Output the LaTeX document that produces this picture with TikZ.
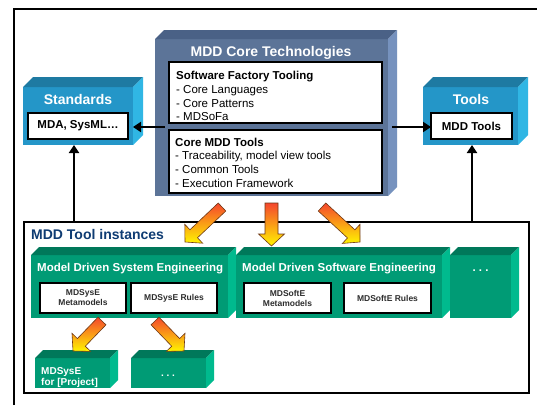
\documentclass[tikz,border=0pt]{standalone}
\usepackage{fontspec}
\setmainfont{Liberation Sans}
\usetikzlibrary{calc,arrows.meta}
\definecolor{slfront}{RGB}{92,116,152}
\definecolor{sltop}{RGB}{74,97,134}
\definecolor{slside}{RGB}{118,146,190}
\definecolor{cyfront}{RGB}{36,150,200}
\definecolor{cytop}{RGB}{30,122,162}
\definecolor{cyside}{RGB}{48,182,228}
\definecolor{grfront}{RGB}{0,155,117}
\definecolor{grtop}{RGB}{0,120,90}
\definecolor{grside}{RGB}{0,186,142}
\definecolor{navy}{RGB}{15,60,115}
\definecolor{arrred}{RGB}{245,70,45}
\definecolor{arryel}{RGB}{255,245,0}
\definecolor{arredge}{RGB}{110,55,20}
\definecolor{darktext}{RGB}{45,45,45}

\newcommand\cubebox[7]{% name, x1, y1, x2, y2, depth, colour prefix
  \node[inner sep=0pt, outer sep=0pt, fill=#7front, anchor=north west,
        minimum width={(#4-#2)*1pt}, minimum height={(#5-#3)*1pt}] (#1) at (#2,#3) {};
  \fill[#7top] (#1.north west) -- ++(#6,-#6) -- ($(#1.north east)+(#6,-#6)$) -- (#1.north east) -- cycle;
  \fill[#7side] (#1.north east) -- ++(#6,-#6) -- ($(#1.south east)+(#6,-#6)$) -- (#1.south east) -- cycle;
}
\newcommand\wbox[7]{% name, x1, y1, x2, y2, extra style, text
  \node[wboxstyle, #6, minimum width={(#4-#2)*1pt}, minimum height={(#5-#3)*1pt}] (#1) at (#2,#3) {#7};
}
\newcommand\blockarrow[3]{% tail, tip, shaft half width
  \coordinate (ba-n) at ($(#2)!12pt!(#1)$);
  \shade[blockarr] ($(#1)!#3!90:(#2)$) -- ($(ba-n)!#3!90:(#2)$) -- ($(ba-n)!13pt!90:(#2)$)
    -- (#2) -- ($(ba-n)!13pt!-90:(#2)$) -- ($(ba-n)!#3!-90:(#2)$) -- ($(#1)!#3!-90:(#2)$) -- cycle;
}

\begin{document}
\begin{tikzpicture}[x=1pt,y=-1pt,
  wboxstyle/.style={draw=black, line width=1.4pt, fill=white, anchor=north west, inner sep=0pt, outer sep=0pt, align=center},
  big/.style={font=\fontsize{14}{16}\selectfont\bfseries, text=white, inner sep=0pt},
  mid/.style={font=\fontsize{11.5}{13.7}\selectfont, inner sep=0pt, anchor=base west},
  midb/.style={font=\fontsize{11.5}{13.7}\selectfont\bfseries, inner sep=0pt},
  boxtxt/.style={font=\fontsize{11.5}{13.7}\selectfont\bfseries},
  small/.style={font=\fontsize{8.5}{10}\selectfont\bfseries, text=darktext},
  projtxt/.style={font=\fontsize{10}{11.5}\selectfont\bfseries, text=white, inner sep=0pt},
  blk/.style={line width=2.2pt, -{Triangle[length=8pt,width=10pt]}},
  blockarr/.style={top color=arrred, bottom color=arryel, draw=arredge, line width=0.6pt}]
\useasboundingbox (0,0) rectangle (537,405);
\fill[white] (0,0) rectangle (537,405);

% outer frame
\draw[line width=2pt] (14,405) -- (14,9) -- (537,9);

% instances frame
\node[draw=black, line width=1.5pt, fill=white, anchor=north west, inner sep=0pt,
      minimum width=505pt, minimum height=171pt] (inst) at (23,221) {};
\node[font=\fontsize{14}{16}\selectfont\bfseries, text=navy, inner sep=0pt, anchor=base west] (insttitle) at (31,239) {MDD Tool instances};

% core technologies
\cubebox{core}{155}{39}{388}{196}{9}{sl}
\node[big, anchor=base] (coretitle) at (271,56) {MDD Core Technologies};
\wbox{sft}{169}{62}{382}{123}{}{}
\node[mid, font=\fontsize{11.5}{13.7}\selectfont\bfseries] (sft1) at (176,79) {Software Factory Tooling};
\node[mid] (sft2) at (176,93) {- Core Languages};
\node[mid] (sft3) at (176,107) {- Core Patterns};
\node[mid] (sft4) at (176,120) {- MDSoFa};
\wbox{cmt}{169}{130}{382}{193}{}{}
\node[mid, font=\fontsize{11.5}{13.7}\selectfont\bfseries] (cmt1) at (175,146) {Core MDD Tools};
\node[mid] (cmt2) at (175,159.5) {- Traceability, model view tools};
\node[mid] (cmt3) at (175,173) {- Common Tools};
\node[mid] (cmt4) at (175,187) {- Execution Framework};

% standards
\cubebox{std}{23}{87}{133}{145}{10}{cy}
\node[big, anchor=base] (stdtitle) at (78,104) {Standards};
\wbox{stdin}{28}{113}{128}{139}{boxtxt}{MDA, SysML…}

% tools
\cubebox{tools}{423}{87}{518}{145}{10}{cy}
\node[big, anchor=base] (toolstitle) at (471,104) {Tools};
\wbox{toolsin}{431}{113}{512}{139}{boxtxt}{MDD Tools}

% black connectors
\coordinate (hl) at (165,127);
\coordinate (hr) at (392,127);
\draw[blk] (hl) -- (std.east |- hl);
\draw[blk] (hr) -- (toolsin.west |- hr);
\coordinate (vl) at (74,221);
\coordinate (vr) at (472,221);
\draw[blk] (vl) -- (vl |- std.south);
\draw[blk] (vr) -- (vr |- tools.south);

% green boxes
\cubebox{mdse}{31}{255}{228}{318}{8}{gr}
\cubebox{mdsoft}{236}{255}{442}{318}{8}{gr}
\cubebox{more}{450}{255}{511}{318}{8}{gr}
\node[midb, text=white, anchor=base west] (mdsetitle) at (37,271) {Model Driven System Engineering};
\node[midb, text=white, anchor=base west] (mdsofttitle) at (242,271) {Model Driven Software Engineering};
\node[midb, text=white, anchor=base] (moredots) at (480.5,271) {.\ .\ .};
\wbox{mdsemm}{40}{283}{126}{313}{small}{MDSysE\\Metamodels}
\wbox{mdserules}{131}{283}{217}{313}{small}{MDSysE Rules}
\wbox{mdsoftmm}{244}{283}{331}{313}{small}{MDSoftE\\Metamodels}
\wbox{mdsoftrules}{344}{283}{431}{313}{small}{MDSoftE Rules}

\cubebox{proj}{35}{358}{110}{388}{8}{gr}
\cubebox{projmore}{131}{358}{206}{388}{8}{gr}
\node[projtxt, anchor=base west] (proj1) at (41,374) {MDSysE};
\node[projtxt, anchor=base west] (proj2) at (41,385.5) {for [Project]};
\node[projtxt, anchor=base] (projdots) at (168,376) {.\ .\ .};

% block arrows
\coordinate (a1t) at (222,207); \coordinate (a1h) at (185,242);
\coordinate (a2t) at (271.5,203); \coordinate (a2h) at (271.5,246);
\coordinate (a3t) at (322,207); \coordinate (a3h) at (360,242);
\coordinate (a4t) at (102,321); \coordinate (a4h) at (73,351);
\coordinate (a5t) at (155,321); \coordinate (a5h) at (184,351);
\blockarrow{a1t}{a1h}{5.5pt}
\blockarrow{a2t}{a2h}{6.5pt}
\blockarrow{a3t}{a3h}{5.5pt}
\blockarrow{a4t}{a4h}{5.5pt}
\blockarrow{a5t}{a5h}{5.5pt}
\end{tikzpicture}
\end{document}
